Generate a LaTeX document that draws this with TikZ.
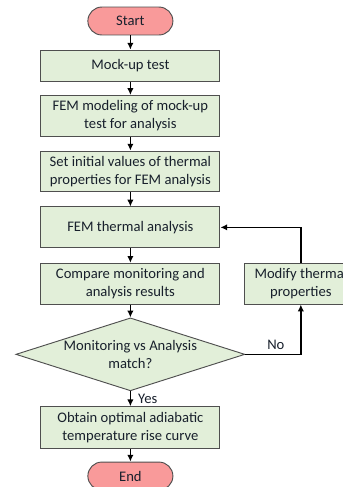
\documentclass[tikz,border=0pt]{standalone}
\usepackage{fontspec}
\setmainfont{Carlito}
\definecolor{BoxGreen}{HTML}{E2EFD9}
\definecolor{TermRed}{HTML}{F99A9A}
\definecolor{EdgeGray}{HTML}{4F4F4F}
\definecolor{TextInk}{HTML}{18202C}
\usetikzlibrary{arrows.meta, shapes.geometric}
\tikzset{
  box/.style={draw=EdgeGray, line width=0.7pt, fill=BoxGreen, align=center, minimum width=4.74cm, minimum height=1.08cm, inner sep=2pt, font=\fontsize{11}{13.5}\selectfont, text=TextInk},
  arrow/.style={-{Latex[length=1.8mm,width=1.7mm]}, line width=1.1pt, draw=black}
}
\begin{document}
\begin{tikzpicture}[
  termnode/.style={draw=EdgeGray, line width=0.7pt, rounded corners=0.37cm, fill=TermRed, minimum width=2.25cm, minimum height=0.74cm, font=\fontsize{11}{13.5}\selectfont, text=TextInk},
  decision/.style={diamond, draw=EdgeGray, line width=0.7pt, fill=BoxGreen, align=center, aspect=3.1, inner sep=-3pt, minimum width=6.06cm, minimum height=1.93cm, font=\fontsize{11}{13.5}\selectfont, text=TextInk}
]
\clip (-3.45,0.556) rectangle (5.62,-12.33);
\node[termnode] (start) at (0,0) {Start};
\node[box, minimum height=0.82cm] (mock) at (0,-1.18) {Mock-up test};
\node[box] (femmodel) at (0,-2.51) {FEM modeling of mock-up\\test for analysis};
\node[box] (initval) at (0,-3.98) {Set initial values of thermal\\properties for FEM analysis};
\node[box] (thermal) at (0,-5.46) {FEM thermal analysis};
\node[box] (compare) at (0,-6.95) {Compare monitoring and\\analysis results};
\node[box, minimum width=2.96cm] (modify) at (4.51,-6.95) {Modify thermal\\properties};
\node[decision] (match) at (0,-8.82) {Monitoring vs Analysis\\match?};
\node[box, minimum height=1.11cm] (obtain) at (0,-10.76) {Obtain optimal adiabatic\\temperature rise curve};
\node[termnode] (stop) at (0,-12.04) {End};

\draw[arrow] (start) -- (mock);
\draw[arrow] (mock) -- (femmodel);
\draw[arrow] (femmodel) -- (initval);
\draw[arrow] (initval) -- (thermal);
\draw[arrow] (thermal) -- (compare);
\draw[arrow] (compare) -- (match);
\draw[arrow] (match) -- node[right, font=\fontsize{11}{13.5}\selectfont, text=TextInk, xshift=2pt] {Yes} (obtain);
\draw[arrow] (obtain) -- (stop);
\draw[arrow] (match.east) -- node[above, font=\fontsize{11}{13.5}\selectfont, text=TextInk, pos=0.55] {No} (match.east -| modify) -- (modify);
\draw[arrow] (modify) |- (thermal);
\end{tikzpicture}
\end{document}
